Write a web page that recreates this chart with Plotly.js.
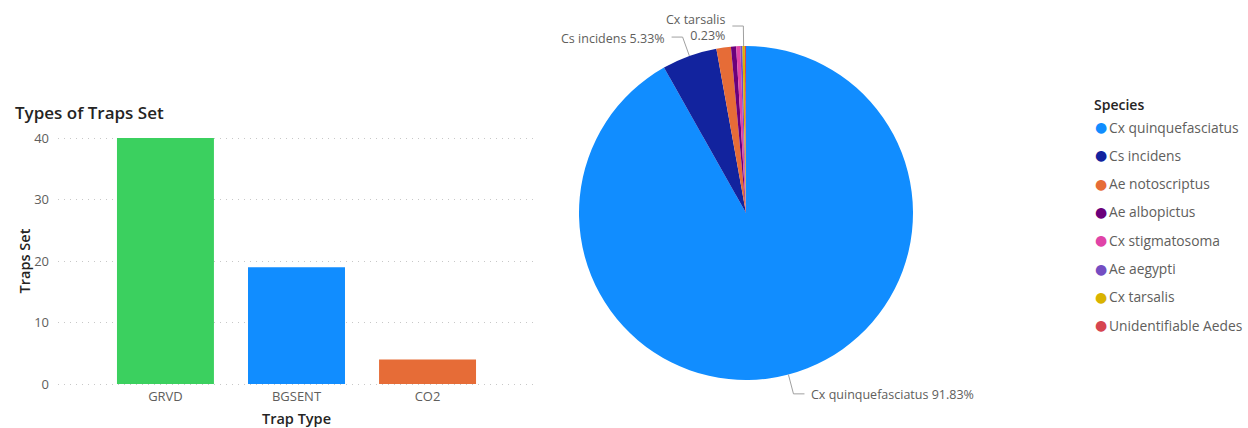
<!DOCTYPE html>
<html><head><meta charset="utf-8">
<script src="https://cdn.plot.ly/plotly-3.0.1.min.js"></script>
<style>body{margin:0;background:#fff}#c{width:1248px;height:428px}</style>
</head><body><div id="c"></div>
<script>
const trapTypes = ['GRVD', 'BGSENT', 'CO2'];
const trapsSet = [40, 19, 4];
const trapColors = ['#3BD05F', '#118DFF', '#E66C37'];
const yTicks = [0, 10, 20, 30, 40];

const species = ['Cx quinquefasciatus', 'Cs incidens', 'Ae notoscriptus', 'Ae albopictus',
  'Cx stigmatosoma', 'Ae aegypti', 'Cx tarsalis', 'Unidentifiable Aedes'];
const speciesPct = [91.83, 5.33, 1.40, 0.50, 0.40, 0.20, 0.23, 0.11];
const speciesColors = ['#118DFF', '#12239E', '#E66C37', '#6B007B', '#E044A7', '#744EC2', '#D9B300', '#D64550'];
const labelled = [0, 1, 6];

const W = 1248, H = 428;
const px = x => x / W, py = y => 1 - y / H;
const FONT = '"Open Sans", "Noto Sans", sans-serif';

// pie geometry (pixels)
const cx = 746, cy = 213, r = 167;
// y axis: 0 at 384px, 40 at 138px, padded by 1 unit each side so edge gridlines show
const yPx = (384 - 138) / 40;

const traces = [
  {type: 'bar', x: trapTypes, y: trapsSet, marker: {color: trapColors}, width: 0.74,
   xaxis: 'x', yaxis: 'y', hoverinfo: 'x+y'},
  {type: 'pie', labels: species, values: speciesPct, marker: {colors: speciesColors},
   sort: false, direction: 'clockwise', rotation: 0, textinfo: 'none', showlegend: false,
   domain: {x: [px(cx - r), px(cx + r)], y: [py(cy + r), py(cy - r)]}}
];

const annotations = [];
const shapes = [];

// title
annotations.push({xref: 'paper', yref: 'paper', x: px(13), y: py(113), xanchor: 'left', yanchor: 'middle',
  text: 'Types of Traps Set', showarrow: false, font: {family: FONT, size: 17, color: '#252423', weight: 600}});

// pie labels with leader lines, computed from values
const total = speciesPct.reduce((a, b) => a + b, 0);
let cum = 0;
const mids = speciesPct.map(v => { const m = (cum + v / 2) / total; cum += v; return m * 2 * Math.PI; });
labelled.forEach(i => {
  const a = mids[i];
  const dx = Math.sin(a), dy = -Math.cos(a);
  const ex = cx + r * dx, ey = cy + r * dy;
  const ext = 20;
  const bx = ex + ext * dx, by = ey + ext * dy;
  const side = dx >= 0 ? 1 : -1;
  const hx = bx + side * 11;
  shapes.push({type: 'path', xref: 'paper', yref: 'paper',
    path: `M ${px(ex)} ${py(ey)} L ${px(bx)} ${py(by)} L ${px(hx)} ${py(by)}`,
    line: {color: '#A0A0A0', width: 1}});
  const pct = speciesPct[i].toFixed(2) + '%';
  const txt = i === 6 ? species[i] + '<br>' + pct : species[i] + ' ' + pct;
  annotations.push({xref: 'paper', yref: 'paper', x: px(hx + side * 5), y: py(by + 1), xanchor: side > 0 ? 'left' : 'right',
    yanchor: 'middle', align: side > 0 ? 'left' : 'right', text: txt, showarrow: false,
    font: {family: FONT, size: 12.5, color: '#605E5C'}});
});

// legend
annotations.push({xref: 'paper', yref: 'paper', x: px(1092), y: py(104), xanchor: 'left', yanchor: 'middle',
  text: 'Species', showarrow: false, font: {family: FONT, size: 14, color: '#252423', weight: 600}});
species.forEach((s, i) => {
  const y = 127 + i * 28.3;
  annotations.push({xref: 'paper', yref: 'paper', x: px(1093), y: py(y), xanchor: 'left', yanchor: 'middle',
    text: '●', showarrow: false, font: {family: 'DejaVu Sans', size: 14, color: speciesColors[i]}});
  annotations.push({xref: 'paper', yref: 'paper', x: px(1107), y: py(y), xanchor: 'left', yanchor: 'middle',
    text: s, showarrow: false, font: {family: FONT, size: 13.8, color: '#605E5C'}});
});

const layout = {
  width: W, height: H, margin: {l: 0, r: 0, t: 0, b: 0},
  paper_bgcolor: '#fff', plot_bgcolor: '#fff', showlegend: false,
  font: {family: FONT},
  xaxis: {domain: [px(58), px(535)], range: [-0.82, 2.82], anchor: 'free', position: py(384),
    showgrid: false, zeroline: false, showline: false,
    ticks: '', tickfont: {family: FONT, size: 13, color: '#605E5C'}, automargin: false, ticklabelstandoff: 3,
    title: {text: 'Trap Type', font: {family: FONT, size: 14.5, color: '#252423', weight: 600}, standoff: 9}},
  yaxis: {domain: [py(384 + yPx), py(138 - yPx)], range: [-1, 41], tickvals: yTicks, showgrid: true, gridcolor: '#C8C8C8',
    griddash: '1px,5px', gridwidth: 1, zeroline: false, showline: false, ticks: '', automargin: false,
    tickfont: {family: FONT, size: 13, color: '#605E5C'}, ticklabelstandoff: 8,
    title: {text: 'Traps Set', font: {family: FONT, size: 14.5, color: '#252423', weight: 600}, standoff: 0}},
  annotations, shapes
};

Plotly.newPlot('c', traces, layout, {displayModeBar: false, staticPlot: true});
</script>
</body></html>
